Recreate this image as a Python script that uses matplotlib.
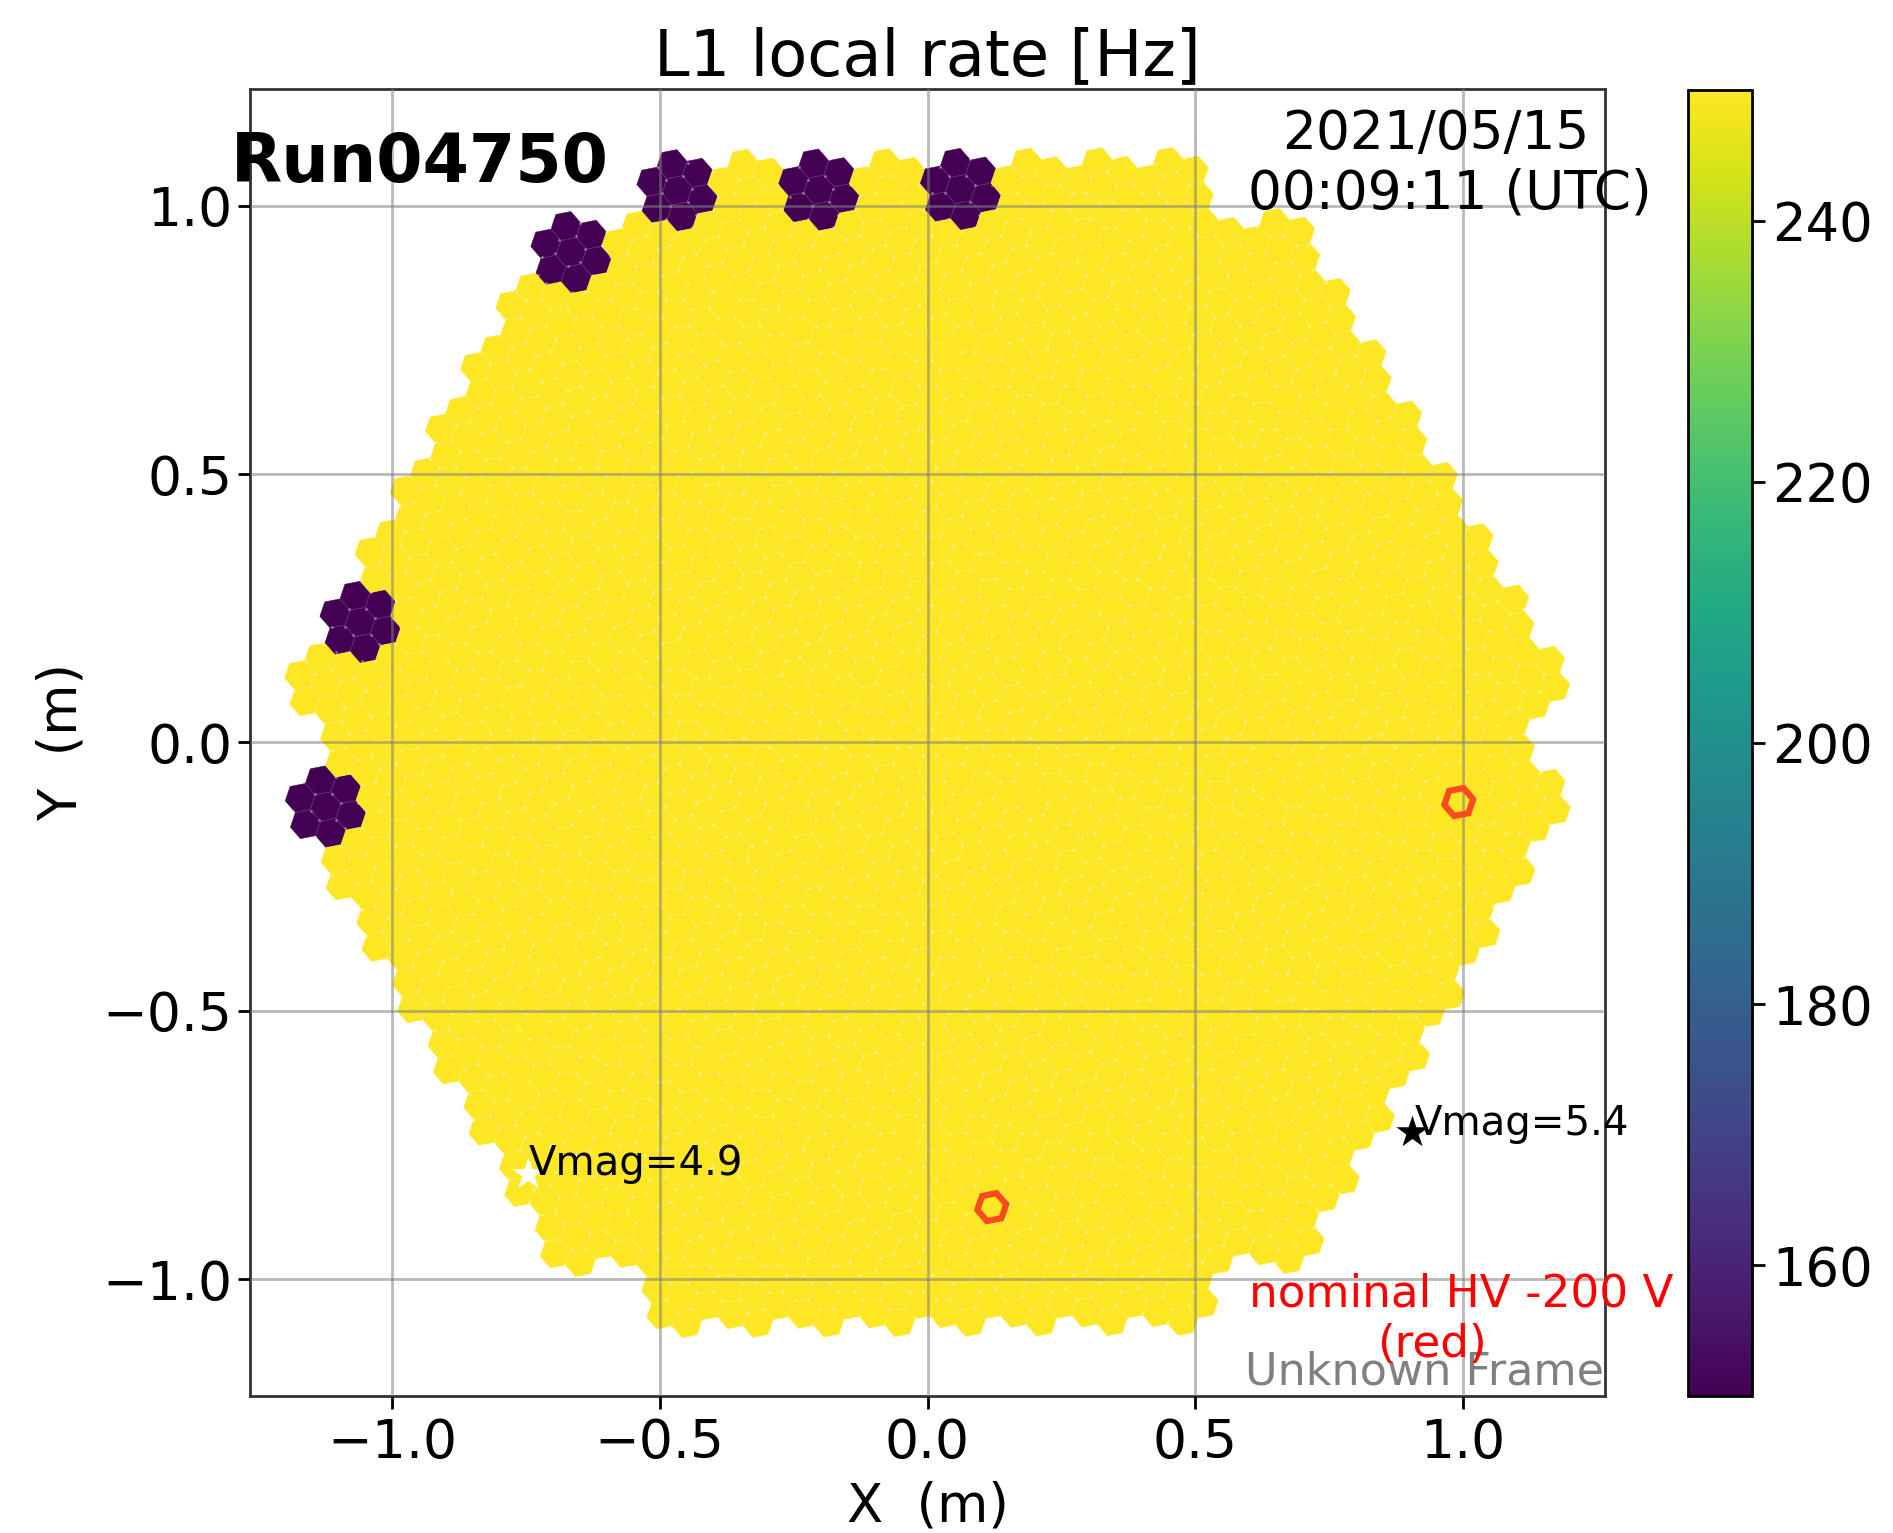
import numpy as np
import matplotlib
matplotlib.use("Agg")
import matplotlib.pyplot as plt
from matplotlib.collections import PolyCollection

# camera layout: modules of 7 pixels on a hex lattice, corners missing
ring_radius = 9
module_pitch = 0.1323
pixel_pitch = 0.05
lattice_angle = 0.25  # deg

dead_n = [-9, -8, -8, -6, -4, -9]
dead_m = [2, -1, 9, 9, 9, 8]

rate_good = 250.0
rate_dead = 150.0

# pixels outlined in red (nominal HV -200 V)
red_x = [0.992, 0.120]
red_y = [-0.111, -0.866]

star_x = [0.905, -0.745]
star_y = [-0.726, -0.805]
star_col = ["black", "white"]
star_txt = ["Vmag=5.4", "Vmag=4.9"]
star_txt_x = [0.91, -0.745]
star_txt_y = [-0.732, -0.807]

corners = [(ring_radius, 0), (-ring_radius, 0), (0, ring_radius),
           (0, -ring_radius), (ring_radius, -ring_radius), (-ring_radius, ring_radius)]
dead = list(zip(dead_n, dead_m))


def hexagon(cx, cy, r, a0):
    a = np.deg2rad(a0 + 60 * np.arange(6))
    return np.column_stack([cx + r * np.cos(a), cy + r * np.sin(a)])


th = np.deg2rad(lattice_angle)
sub = np.deg2rad(lattice_angle - 19.1)
offsets = [(0.0, 0.0)]
for k in range(6):
    offsets.append((pixel_pitch * np.cos(sub + k * np.pi / 3),
                    pixel_pitch * np.sin(sub + k * np.pi / 3)))

polys = []
rates = []
for n in range(-ring_radius, ring_radius + 1):
    for m in range(-ring_radius, ring_radius + 1):
        if abs(n + m) > ring_radius or (n, m) in corners:
            continue
        x0 = module_pitch * (n + m / 2)
        y0 = module_pitch * m * np.sqrt(3) / 2
        cx = x0 * np.cos(th) - y0 * np.sin(th)
        cy = x0 * np.sin(th) + y0 * np.cos(th)
        for dx, dy in offsets:
            polys.append(hexagon(cx + dx, cy + dy, 0.0284, lattice_angle - 19.1 + 30))
            rates.append(rate_dead if (n, m) in dead else rate_good)

# the small white specks where three pixels meet, not on the outer edge
bins, counts = np.unique(np.round(np.vstack(polys) / 0.008), axis=0, return_counts=True)
verts = bins[counts >= 2] * 0.008

plt.rcParams["font.family"] = "DejaVu Sans"
fig = plt.figure(figsize=(18.93, 15.33), dpi=100)
ax = fig.add_axes([250 / 1893, 1 - 1396 / 1533, (1605 - 250) / 1893, (1396 - 89) / 1533])
cax = fig.add_axes([1688 / 1893, 1 - 1396 / 1533, 64 / 1893, (1396 - 90) / 1533])

pc = PolyCollection(polys, array=np.array(rates), cmap="viridis", edgecolors="face",
                    linewidths=0.35, zorder=2)
pc.set_clim(150, 250)
ax.add_collection(pc)
ax.scatter(verts[:, 0], verts[:, 1], s=4, c="white", alpha=0.4, linewidths=0, zorder=2.5)

for x, y in zip(red_x, red_y):
    ax.add_patch(plt.Polygon(hexagon(x, y, 0.0275, lattice_angle - 19.1 + 30), fill=False,
                             edgecolor="#fb4a1e", linewidth=4.5, zorder=3))

ax.set_xlim(-1.265, 1.265)
ax.set_ylim(-1.218, 1.218)
ax.grid(True, color="#7f7f7f", alpha=0.55, linewidth=2, zorder=4)
ax.set_axisbelow(False)
ax.tick_params(labelsize=38.5, width=2, length=9)
ax.tick_params(axis="x", pad=6)
for s in ax.spines.values():
    s.set_linewidth(2)
    s.set_color("#333333")
ax.set_xlabel("X  (m)", fontsize=38, labelpad=8.5)
ax.set_ylabel("Y  (m)", fontsize=38, labelpad=10.5)
ax.set_title("L1 local rate [Hz]", fontsize=46, pad=10)

ax.text(-1.3, 1.045, "Run04750", fontsize=48, fontweight="bold", va="baseline", zorder=6)
ax.text(0.949, 1.107, "2021/05/15", fontsize=38.4, ha="center", va="baseline", zorder=6)
ax.text(0.976, 0.995, "00:09:11 (UTC)", fontsize=38.4, ha="center", va="baseline", zorder=6)

for x, y, c in zip(star_x, star_y, star_col):
    ax.scatter([x], [y], marker="*", s=600, c=c, zorder=5, linewidths=0)
for x, y, t in zip(star_txt_x, star_txt_y, star_txt):
    ax.text(x, y, t, fontsize=29, zorder=6)

ax.text(0.996, -1.051, "nominal HV -200 V", color="red", fontsize=32.6, ha="center",
        va="baseline", zorder=6, clip_on=False)
ax.text(0.942, -1.146, "(red)", color="red", fontsize=32.6, ha="center",
        va="baseline", zorder=6, clip_on=False)
ax.text(0.999, 0.0016, "Unknown Frame", transform=ax.transAxes, color="gray", fontsize=32,
        ha="right", va="bottom", zorder=5)

cb = fig.colorbar(pc, cax=cax)
cb.set_ticks([160, 180, 200, 220, 240])
cb.ax.tick_params(labelsize=38, width=2, length=9, pad=5.5)
cb.outline.set_linewidth(2)

fig.savefig("out.png", dpi=100)
